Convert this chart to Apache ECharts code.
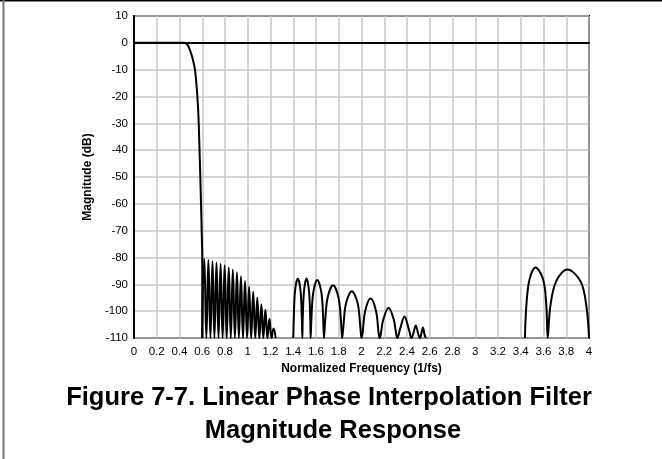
<!DOCTYPE html>
<html><head><meta charset="utf-8">
<script src="https://cdn.jsdelivr.net/npm/echarts@6/dist/echarts.min.js"></script>
<style>html,body{margin:0;padding:0;background:#fff}#c{width:662px;height:459px}</style>
</head><body><div id="c"></div>
<script>
// Tick values
const xTicks = [0,0.2,0.4,0.6,0.8,1,1.2,1.4,1.6,1.8,2,2.2,2.4,2.6,2.8,3,3.2,3.4,3.6,3.8,4];
const yTicks = [10,0,-10,-20,-30,-40,-50,-60,-70,-80,-90,-100,-110];

// Caption
const captionLine1 = 'Figure 7-7. Linear Phase Interpolation Filter';
const captionLine2 = 'Magnitude Response';

// Passband and transition band [freq, dB]
const passband = [[0,0],[0.44,0],[0.46,-0.3],[0.475,-1],[0.49,-2.5],[0.51,-5],[0.536,-10],[0.557,-20],[0.569,-30],[0.583,-50],[0.595,-70],[0.6,-80.4],[0.6,-110]];

// Dense stopband lobes (0.6 .. 1.25): nulls and peaks
const denseNulls = [0.600,0.636,0.672,0.707,0.743,0.779,0.815,0.851,0.887,0.922,0.958,0.994,1.030,1.066,1.102,1.137,1.173,1.209,1.245];
const densePeakX = [0.618,0.654,0.690,0.725,0.761,0.797,0.833,0.869,0.905,0.940,0.976,1.012,1.048,1.084,1.120,1.155,1.191,1.227];
const densePeakDb = [-80.5,-80.9,-81.4,-81.9,-82.4,-82.9,-83.7,-84.5,-85.5,-87.0,-88.8,-90.8,-92.8,-95.0,-97.5,-99.5,-102.8,-106.5];

// Middle lobes (1.4 .. 2.57) [freq, dB]
const midLobes = [
  [1.400,-110],[1.405,-102],[1.416,-92.3],[1.440,-87.8],[1.464,-92.3],[1.475,-102],[1.480,-110],
  [1.484,-102],[1.495,-92.3],[1.517,-87.8],[1.538,-92.3],[1.549,-102],[1.553,-110],
  [1.560,-102.5],[1.576,-93],[1.611,-88.4],[1.647,-93],[1.663,-102.5],[1.670,-110],
  [1.680,-104],[1.702,-95],[1.750,-90.3],[1.798,-95],[1.820,-104],[1.830,-110],
  [1.840,-106],[1.864,-97],[1.915,-92.6],[1.966,-97],[1.990,-106],[2.000,-110],
  [2.010,-108],[2.032,-100],[2.080,-95.3],[2.128,-100],[2.150,-108],[2.160,-110],
  [2.168,-109],[2.191,-103.2],[2.238,-98.7],[2.284,-103.2],[2.307,-109],[2.315,-110],
  [2.340,-106.5],[2.378,-102],[2.415,-106.5],[2.440,-110],
  [2.455,-108.5],[2.477,-105.3],[2.499,-108.5],[2.514,-110],
  [2.524,-108.8],[2.540,-106.1],[2.555,-108.8],[2.565,-110]
];

// High lobes (3.44 .. 4) [freq, dB]
const highLobes = [
  [3.437,-110],[3.449,-98],[3.477,-88.2],[3.530,-83.7],[3.597,-88.2],[3.625,-98],[3.637,-110],
  [3.659,-98.5],[3.710,-89],[3.810,-84.5],[3.927,-89],[3.978,-98.5],[4.000,-110]
];

const dense = [];
for (let i = 0; i < densePeakX.length; i++) {
  dense.push([denseNulls[i], -110]);
  dense.push([densePeakX[i], densePeakDb[i]]);
}
dense.push([denseNulls[denseNulls.length - 1], -110]);

const FONT = "'Liberation Sans', Arial, sans-serif";
const lineStyle = {color: '#000', width: 2};
const chart = echarts.init(document.getElementById('c'), null, {renderer: 'canvas'});
chart.setOption({
  animation: false,
  backgroundColor: '#fff',
  grid: {left: 134, right: 73, top: 16, bottom: 121, show: true, borderColor: '#000', borderWidth: 2, backgroundColor: 'transparent'},
  xAxis: {
    type: 'value', min: xTicks[0], max: xTicks[xTicks.length - 1], interval: 0.2,
    name: 'Normalized Frequency (1/fs)', nameLocation: 'middle', nameGap: 22,
    nameTextStyle: {fontFamily: FONT, fontSize: 12, fontWeight: 'bold', color: '#000'},
    axisLine: {show: true, lineStyle: {color: '#000', width: 2}},
    axisTick: {show: false},
    axisLabel: {fontFamily: FONT, fontSize: 11.5, color: '#000', margin: 8,
      formatter: v => String(Math.round(v * 10) / 10)},
    splitLine: {show: true, lineStyle: {color: '#c6c6c6', width: 1.5}}
  },
  yAxis: {
    type: 'value', min: yTicks[yTicks.length - 1], max: yTicks[0], interval: 10,
    name: 'Magnitude (dB)', nameLocation: 'middle', nameGap: 37,
    nameTextStyle: {fontFamily: FONT, fontSize: 12, fontWeight: 'bold', color: '#000'},
    axisLine: {show: true, lineStyle: {color: '#000', width: 2}},
    axisTick: {show: false},
    axisLabel: {fontFamily: FONT, fontSize: 11.5, color: '#000', margin: 6},
    splitLine: {show: true, lineStyle: {color: '#c6c6c6', width: 1.5}}
  },
  graphic: [
    {type: 'line', shape: {x1: 0, y1: 0.5, x2: 662, y2: 0.5}, style: {stroke: '#000', lineWidth: 2}},
    {type: 'line', shape: {x1: 3.5, y1: 0, x2: 3.5, y2: 459}, style: {stroke: '#777', lineWidth: 2}},
    {type: 'text', x: 329, y: 398, style: {
      text: captionLine1,
      fontFamily: FONT, fontSize: 25.5, fontWeight: 'bold', fill: '#000',
      align: 'center', verticalAlign: 'middle', textAlign: 'center', textVerticalAlign: 'middle'
    }},
    {type: 'text', x: 333, y: 431, style: {
      text: captionLine2,
      fontFamily: FONT, fontSize: 25.5, fontWeight: 'bold', fill: '#000',
      align: 'center', verticalAlign: 'middle', textAlign: 'center', textVerticalAlign: 'middle'
    }}
  ],
  series: [
    {type: 'line', data: passband, showSymbol: false, smooth: 0.2, lineStyle: lineStyle, z: 3},
    {type: 'line', data: dense, showSymbol: false, smooth: 0.5, lineStyle: {color: '#000', width: 2}, z: 3},
    {type: 'line', data: midLobes, showSymbol: false, smooth: 0.35, lineStyle: lineStyle, z: 3},
    {type: 'line', data: highLobes, showSymbol: false, smooth: 0.35, lineStyle: lineStyle, z: 3}
  ]
});
</script></body></html>
